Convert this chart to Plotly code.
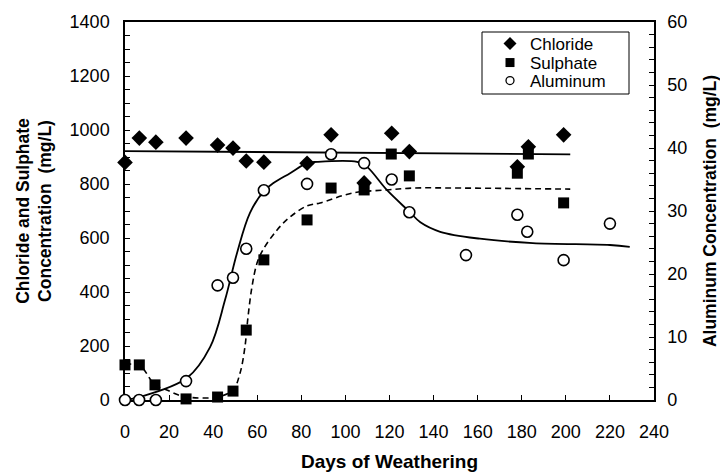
import plotly.graph_objects as go

# ---- data ----
chl_days = [0, 6.5, 14, 27.7, 42, 49, 55, 63, 82.6, 93.5, 108.5, 121, 129, 178, 183, 199]
chl_vals = [880, 970, 955, 970, 944, 933, 885, 881, 877, 982, 804, 988, 920, 864, 938, 982]

sul_days = [0, 6.5, 13.6, 27.7, 42, 49, 55, 63, 82.6, 93.5, 108.5, 120.8, 129, 178, 183, 199]
sul_vals = [130, 130, 56, 4, 11, 33, 259, 519, 667, 785, 778, 911, 830, 840, 911, 730]

al_days = [0, 6.4, 14, 27.7, 42, 49, 55, 63, 82.6, 93.5, 108.5, 121, 129, 154.7, 178, 182.5, 199, 220]
al_vals = [0, 0, 0, 3.0, 18.2, 19.4, 24.0, 33.3, 34.3, 39.0, 37.6, 35.0, 29.8, 23.0, 29.4, 26.7, 22.2, 28.0]

chl_fit_days = [0, 202]
chl_fit_vals = [922, 910]

sul_fit_days = [0, 6.4, 13.6, 19, 24, 27.7, 41.7, 49, 52.2, 54.4, 55.8, 57.6, 59.9, 62.6, 69, 74.9,
                82.6, 88.5, 103.4, 118.9, 130.7, 152, 202]
sul_fit_vals = [130, 130, 56, 37, 19, 11, 11, 37, 100, 196, 307, 419, 507, 556, 630, 678,
                719, 730, 767, 778, 785, 785, 781]

al_fit_days = [0, 6.8, 28.1, 38.6, 45.4, 50.8, 56.7, 63.1, 67.2, 74.9, 82.6, 87.1, 105.3, 109.8,
               118.9, 129.3, 134, 143, 161, 185, 220, 229]
al_fit_vals = [0, 0.5, 3.5, 8.4, 15.9, 23.3, 29.7, 33.2, 34.4, 36.0, 37.6, 37.8, 37.8, 37.0,
               33.3, 29.8, 28.2, 26.7, 25.6, 24.9, 24.6, 24.3]

legend_names = ["Chloride", "Sulphate", "Aluminum"]
x_ticks = list(range(0, 241, 20))
left_ticks = list(range(0, 1401, 200))
right_ticks = list(range(0, 61, 10))

FONT = "Liberation Sans, Arial, sans-serif"

fig = go.Figure()

# fitted lines
fig.add_trace(go.Scatter(x=chl_fit_days, y=chl_fit_vals, mode="lines",
                         line=dict(color="black", width=1.8), showlegend=False, hoverinfo="skip"))
fig.add_trace(go.Scatter(x=sul_fit_days, y=sul_fit_vals, mode="lines", line_shape="spline",
                         line=dict(color="black", width=1.6, dash="6px,4px"), showlegend=False, hoverinfo="skip"))
fig.add_trace(go.Scatter(x=al_fit_days, y=al_fit_vals, mode="lines", line_shape="spline", yaxis="y2",
                         line=dict(color="black", width=1.8), showlegend=False, hoverinfo="skip"))

# data points
fig.add_trace(go.Scatter(x=sul_days, y=sul_vals, mode="markers", cliponaxis=False,
                         marker=dict(symbol="square", size=11, color="black"), showlegend=False))
fig.add_trace(go.Scatter(x=chl_days, y=chl_vals, mode="markers", cliponaxis=False,
                         marker=dict(symbol="diamond", size=12, color="black"), showlegend=False))
fig.add_trace(go.Scatter(x=al_days, y=al_vals, mode="markers", yaxis="y2", cliponaxis=False,
                         marker=dict(symbol="circle", size=11, color="white",
                                     line=dict(color="black", width=1.6)), showlegend=False))

# legend entries (one legend each, to match the tight line spacing)
fig.add_trace(go.Scatter(x=[None], y=[None], mode="markers", name=legend_names[0], legend="legend",
                         marker=dict(symbol="diamond", size=10, color="black")))
fig.add_trace(go.Scatter(x=[None], y=[None], mode="markers", name=legend_names[1], legend="legend2",
                         marker=dict(symbol="square", size=9, color="black")))
fig.add_trace(go.Scatter(x=[None], y=[None], mode="markers", name=legend_names[2], legend="legend3",
                         marker=dict(symbol="circle", size=8, color="white",
                                     line=dict(color="black", width=1.3))))

tickfont = dict(family=FONT, size=18, color="black")
titlefont = dict(family=FONT, size=17.5, color="black")
legfont = dict(family=FONT, size=17, color="black")

L, R, T, B = 125, 66, 22, 72
PW, PH = 720 - L - R, 472 - T - B


def leg(ypx):
    return dict(x=(490 - L) / PW, y=(472 - B - ypx) / PH, xanchor="left", yanchor="middle",
                bgcolor="rgba(0,0,0,0)", borderwidth=0, font=legfont)


fig.update_layout(
    width=720, height=472,
    margin=dict(l=L, r=R, t=T, b=B, autoexpand=False),
    paper_bgcolor="white", plot_bgcolor="white",
    font=dict(family=FONT, color="black"),
    showlegend=True,
    legend=leg(44), legend2=leg(63), legend3=leg(81),
    xaxis=dict(range=[0, 240], tickvals=x_ticks, ticks="inside", ticklen=5, tickwidth=1,
               tickcolor="black", showline=True, linecolor="black", linewidth=1.5, mirror=True,
               showgrid=False, zeroline=False, tickfont=tickfont, layer="below traces",
               ticklabelstandoff=15, automargin=False,
               title=dict(text="<b>Days of Weathering</b>", font=dict(family=FONT, size=19, color="black"),
                          standoff=13)),
    yaxis=dict(range=[0, 1400], tickvals=left_ticks, ticks="inside", ticklen=5, tickwidth=1,
               tickcolor="black", showline=True, linecolor="black", linewidth=1.5,
               showgrid=False, zeroline=False, tickfont=tickfont, layer="below traces",
               ticklabelstandoff=10, automargin=False,
               minor=dict(dtick=50, ticks="inside", ticklen=5, tickcolor="black", showgrid=False),
               title=dict(text="<b>Chloride and Sulphate<br>Concentration  (mg/L)</b>",
                          font=titlefont, standoff=13)),
    yaxis2=dict(range=[0, 60], tickvals=right_ticks, ticks="inside", ticklen=5, tickwidth=1,
                tickcolor="black", showline=True, linecolor="black", linewidth=1.5,
                overlaying="y", side="right", anchor="x",
                showgrid=False, zeroline=False, tickfont=tickfont, layer="below traces",
                ticklabelstandoff=8, automargin=False,
                minor=dict(dtick=2, ticks="inside", ticklen=5, tickcolor="black", showgrid=False),
                title=dict(text="<b>Aluminum Concentration  (mg/L)</b>", font=titlefont, standoff=23)),
    shapes=[dict(type="rect", xref="paper", yref="paper",
                 x0=(482 - L) / PW, x1=(629 - L) / PW, y0=(472 - B - 94) / PH, y1=(472 - B - 32) / PH,
                 line=dict(color="black", width=1), fillcolor="rgba(0,0,0,0)")],
)

# remove the default 8px page margin so the figure sits at the window origin
fig.write_html("out.html", config={"displayModeBar": False},
               post_script="document.body.style.margin='0';")
